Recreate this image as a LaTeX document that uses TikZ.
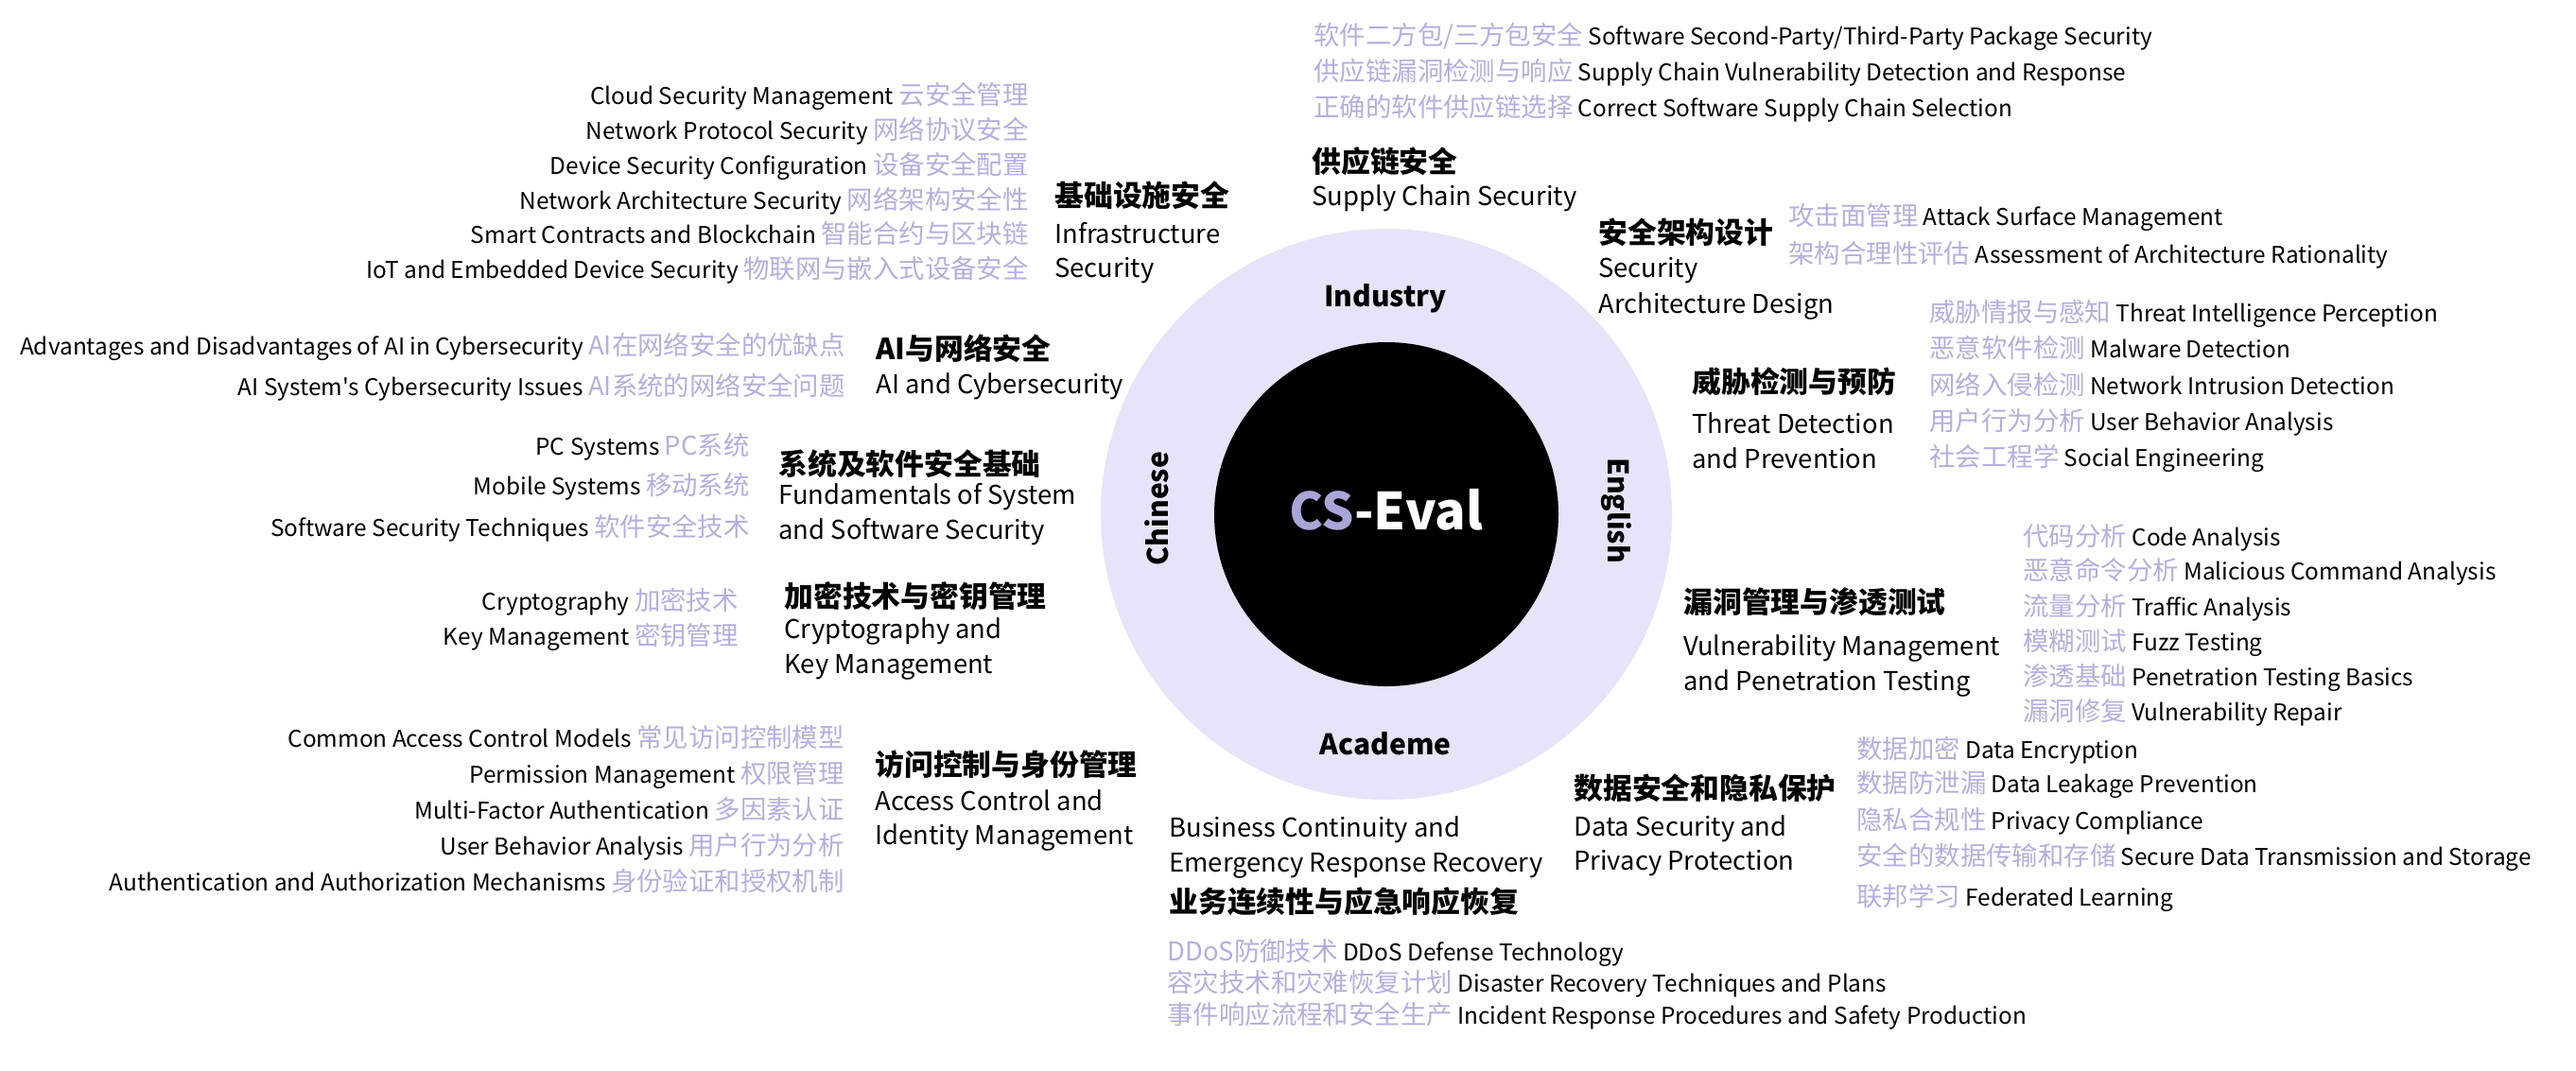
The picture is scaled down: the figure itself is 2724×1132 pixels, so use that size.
\documentclass[tikz,border=0pt]{standalone}
\usepackage{fontspec}
\setmainfont{Noto Sans CJK SC}[Ligatures=TeXOff]
\definecolor{ringc}{RGB}{230,228,248}
\definecolor{lav}{RGB}{178,176,221}
\definecolor{cslav}{RGB}{168,166,214}
\newcommand{\zh}[1]{{\fontsize{13.7}{16}\selectfont\textcolor{lav}{#1}}}
\begin{document}
\begin{tikzpicture}[x=0.5pt,y=-0.5pt,
  itemR/.style={anchor=base east,inner sep=0,font=\fontsize{12.2}{16}\selectfont},
  itemL/.style={anchor=base west,inner sep=0,font=\fontsize{12.2}{16}\selectfont},
  sub/.style={anchor=base west,inner sep=0,font=\fontsize{13.7}{16}\selectfont},
  ttl/.style={anchor=base west,inner sep=0,font=\fontsize{15.4}{18}\selectfont\bfseries},
  side/.style={inner sep=0,font=\fontsize{15}{18}\selectfont\bfseries}]
\useasboundingbox (0,0) rectangle (2724,1132);
\fill[white] (0,0) rectangle (2724,1132);
% circles
\node[circle,fill=ringc,minimum size=302pt,inner sep=0] (ring) at (1466,544) {};
\node[circle,fill=black,minimum size=182pt,inner sep=0] (core) at (1466,544) {};
\node[anchor=base,inner sep=0,font=\fontsize{27}{30}\selectfont\bfseries,text=white] (cseval) at (1466,560) {\textcolor{cslav}{CS}-Eval};
\node[side,anchor=base] (industry) at (1465,324) {Industry};
\node[side,anchor=base] (academe) at (1465,798) {Academe};
\node[side,rotate=90] (chinese) at (1223,538) {Chinese};
\node[side,rotate=-90] (english) at (1709,540) {English};

% Infrastructure Security
\node[itemR] (inf1) at (1088,110) {Cloud Security Management \zh{云安全管理}};
\node[itemR] (inf2) at (1088,147) {Network Protocol Security \zh{网络协议安全}};
\node[itemR] (inf3) at (1088,184) {Device Security Configuration \zh{设备安全配置}};
\node[itemR] (inf4) at (1088,221) {Network Architecture Security \zh{网络架构安全性}};
\node[itemR] (inf5) at (1088,257) {Smart Contracts and Blockchain \zh{智能合约与区块链}};
\node[itemR] (inf6) at (1088,294) {IoT and Embedded Device Security \zh{物联网与嵌入式设备安全}};
\node[ttl] (infT) at (1115,218) {基础设施安全};
\node[sub] (infS1) at (1115,257) {Infrastructure};
\node[sub] (infS2) at (1115,293) {Security};

% AI and Cybersecurity
\node[itemR] (ai1) at (894,375) {Advantages and Disadvantages of AI in Cybersecurity \zh{AI在网络安全的优缺点}};
\node[itemR] (ai2) at (894,418) {AI System's Cybersecurity Issues \zh{AI系统的网络安全问题}};
\node[ttl] (aiT) at (926,380) {AI与网络安全};
\node[sub] (aiS1) at (926,416) {AI and Cybersecurity};

% Fundamentals of System and Software Security
\node[itemR] (sys1) at (793,481) {PC Systems \zh{PC系统}};
\node[itemR] (sys2) at (793,523) {Mobile Systems \zh{移动系统}};
\node[itemR] (sys3) at (793,567) {Software Security Techniques \zh{软件安全技术}};
\node[ttl] (sysT) at (823,502) {系统及软件安全基础};
\node[sub] (sysS1) at (823,533) {Fundamentals of System};
\node[sub] (sysS2) at (823,570) {and Software Security};

% Cryptography and Key Management
\node[itemR] (cr1) at (781,645) {Cryptography \zh{加密技术}};
\node[itemR] (cr2) at (781,682) {Key Management \zh{密钥管理}};
\node[ttl] (crT) at (829,642) {加密技术与密钥管理};
\node[sub] (crS1) at (829,675) {Cryptography and};
\node[sub] (crS2) at (829,712) {Key Management};

% Access Control and Identity Management
\node[itemR] (ac1) at (893,790) {Common Access Control Models \zh{常见访问控制模型}};
\node[itemR] (ac2) at (893,828) {Permission Management \zh{权限管理}};
\node[itemR] (ac3) at (893,866) {Multi-Factor Authentication \zh{多因素认证}};
\node[itemR] (ac4) at (893,904) {User Behavior Analysis \zh{用户行为分析}};
\node[itemR] (ac5) at (893,942) {Authentication and Authorization Mechanisms \zh{身份验证和授权机制}};
\node[ttl] (acT) at (925,820) {访问控制与身份管理};
\node[sub] (acS1) at (925,857) {Access Control and};
\node[sub] (acS2) at (925,893) {Identity Management};

% Business Continuity
\node[sub] (bcS1) at (1236,885) {Business Continuity and};
\node[sub] (bcS2) at (1236,922) {Emergency Response Recovery};
\node[ttl] (bcT) at (1236,965) {业务连续性与应急响应恢复};
\node[itemL] (bc1) at (1234,1016) {\zh{DDoS防御技术} DDoS Defense Technology};
\node[itemL] (bc2) at (1234,1049) {\zh{容灾技术和灾难恢复计划} Disaster Recovery Techniques and Plans};
\node[itemL] (bc3) at (1234,1083) {\zh{事件响应流程和安全生产} Incident Response Procedures and Safety Production};

% Data Security and Privacy Protection
\node[ttl] (dsT) at (1664,845) {数据安全和隐私保护};
\node[sub] (dsS1) at (1664,884) {Data Security and};
\node[sub] (dsS2) at (1664,920) {Privacy Protection};
\node[itemL] (ds1) at (1963,802) {\zh{数据加密} Data Encryption};
\node[itemL] (ds2) at (1963,838) {\zh{数据防泄漏} Data Leakage Prevention};
\node[itemL] (ds3) at (1963,877) {\zh{隐私合规性} Privacy Compliance};
\node[itemL] (ds4) at (1963,915) {\zh{安全的数据传输和存储} Secure Data Transmission and Storage};
\node[itemL] (ds5) at (1963,958) {\zh{联邦学习} Federated Learning};

% Vulnerability Management and Penetration Testing
\node[ttl] (vmT) at (1780,648) {漏洞管理与渗透测试};
\node[sub] (vmS1) at (1780,693) {Vulnerability Management};
\node[sub] (vmS2) at (1780,730) {and Penetration Testing};
\node[itemL] (vm1) at (2139,577) {\zh{代码分析} Code Analysis};
\node[itemL] (vm2) at (2139,613) {\zh{恶意命令分析} Malicious Command Analysis};
\node[itemL] (vm3) at (2139,651) {\zh{流量分析} Traffic Analysis};
\node[itemL] (vm4) at (2139,688) {\zh{模糊测试} Fuzz Testing};
\node[itemL] (vm5) at (2139,725) {\zh{渗透基础} Penetration Testing Basics};
\node[itemL] (vm6) at (2139,762) {\zh{漏洞修复} Vulnerability Repair};

% Threat Detection and Prevention
\node[ttl] (tdT) at (1789,415) {威胁检测与预防};
\node[sub] (tdS1) at (1789,458) {Threat Detection};
\node[sub] (tdS2) at (1789,495) {and Prevention};
\node[itemL] (td1) at (2040,340) {\zh{威胁情报与感知} Threat Intelligence Perception};
\node[itemL] (td2) at (2040,378) {\zh{恶意软件检测} Malware Detection};
\node[itemL] (td3) at (2040,417) {\zh{网络入侵检测} Network Intrusion Detection};
\node[itemL] (td4) at (2040,455) {\zh{用户行为分析} User Behavior Analysis};
\node[itemL] (td5) at (2040,493) {\zh{社会工程学} Social Engineering};

% Security Architecture Design
\node[ttl] (saT) at (1690,257) {安全架构设计};
\node[sub] (saS1) at (1690,293) {Security};
\node[sub] (saS2) at (1690,331) {Architecture Design};
\node[itemL] (sa1) at (1891,238) {\zh{攻击面管理} Attack Surface Management};
\node[itemL] (sa2) at (1891,278) {\zh{架构合理性评估} Assessment of Architecture Rationality};

% Supply Chain Security
\node[ttl] (scT) at (1387,182) {供应链安全};
\node[sub] (scS1) at (1387,217) {Supply Chain Security};
\node[itemL] (sc1) at (1389,47) {\zh{软件二方包/三方包安全} Software Second-Party/Third-Party Package Security};
\node[itemL] (sc2) at (1389,85) {\zh{供应链漏洞检测与响应} Supply Chain Vulnerability Detection and Response};
\node[itemL] (sc3) at (1389,123) {\zh{正确的软件供应链选择} Correct Software Supply Chain Selection};
\end{tikzpicture}
\end{document}
